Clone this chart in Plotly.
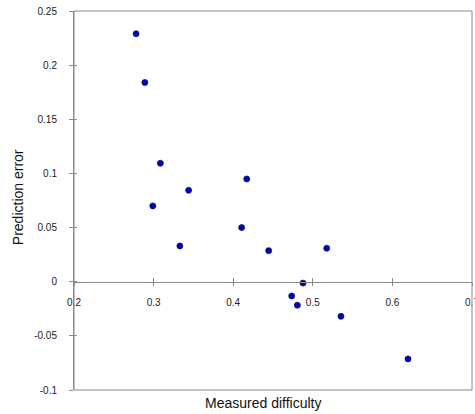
import plotly.graph_objects as go

measured_difficulty = [0.278, 0.289, 0.3085, 0.417, 0.344, 0.299, 0.4106, 0.333, 0.4446, 0.5175,
                       0.4877, 0.4735, 0.4806, 0.5354, 0.6196]
prediction_error = [0.229, 0.184, 0.1094, 0.0949, 0.0844, 0.070, 0.050, 0.033, 0.0287, 0.0309,
                    -0.0013, -0.0132, -0.0217, -0.032, -0.0713]

x_tick_vals = [0.2, 0.3, 0.4, 0.5, 0.6, 0.7]
x_tick_text = ["0.2", "0.3", "0.4", "0.5", "0.6", "0.7"]
y_tick_vals = [0.25, 0.2, 0.15, 0.1, 0.05, 0, -0.05, -0.1]
y_tick_text = ["0.25", "0.2", "0.15", "0.1", "0.05", "0", "-0.05", "-0.1"]

x_range = [0.2, 0.7]
y_range = [-0.1, 0.25]

axis_color = "#8a8a8a"
font_family = "Liberation Sans, Arial, sans-serif"

fig = go.Figure()
fig.add_trace(go.Scatter(
    x=measured_difficulty, y=prediction_error, mode="markers",
    marker=dict(size=6, color="#0000c8", line=dict(color="#1a1a40", width=0.8)),
    showlegend=False, hoverinfo="x+y",
))
# invisible trace for overlay axes
fig.add_trace(go.Scatter(x=[], y=[], xaxis="x2", yaxis="y2", showlegend=False))

zero_pos = (0 - y_range[0]) / (y_range[1] - y_range[0])

fig.update_layout(
    width=475, height=414,
    margin=dict(l=74, r=3, t=11, b=24, autoexpand=False),
    paper_bgcolor="white", plot_bgcolor="white",
    font=dict(family=font_family, size=10, color="#222222"),
    xaxis=dict(
        range=x_range, tickvals=x_tick_vals, ticktext=x_tick_text,
        showgrid=False, zeroline=False, showline=True, linecolor=axis_color, linewidth=1,
        ticks="outside", ticklen=3, tickcolor=axis_color,
        anchor="free", position=zero_pos, ticklabelstandoff=8,
        ticklabeloverflow="allow", automargin=False,
        tickfont=dict(size=10, color="#222222"),
    ),
    yaxis=dict(
        range=y_range, tickvals=y_tick_vals, ticktext=y_tick_text,
        showgrid=False, zeroline=False, showline=True, linecolor=axis_color, linewidth=1,
        ticks="outside", ticklen=4, tickcolor=axis_color, ticklabelstandoff=10,
        automargin=False,
        tickfont=dict(size=10, color="#222222"),
    ),
    xaxis2=dict(
        range=x_range, tickvals=x_tick_vals, showticklabels=False, overlaying="x",
        showgrid=False, zeroline=False, showline=False,
        ticks="inside", ticklen=4, tickcolor=axis_color,
        anchor="free", position=zero_pos,
    ),
    yaxis2=dict(
        range=y_range, tickvals=y_tick_vals, showticklabels=False, overlaying="y",
        showgrid=False, zeroline=False, showline=False,
        ticks="inside", ticklen=3, tickcolor=axis_color, anchor="x",
    ),
    shapes=[dict(type="rect", xref="paper", yref="paper", x0=0, y0=0, x1=1, y1=1,
                 line=dict(color=axis_color, width=1), layer="above")],
    annotations=[
        dict(text="Measured difficulty", xref="paper", yref="paper", x=0.475, y=0,
             yshift=-13, showarrow=False, xanchor="center", yanchor="middle",
             font=dict(size=14, color="#111111", family=font_family)),
        dict(text="Prediction error", xref="paper", x=-0.142, yref="paper", y=0.51,
             showarrow=False, textangle=-90, xanchor="center", yanchor="middle",
             font=dict(size=14, color="#111111", family=font_family)),
    ],
)

fig.write_html("out.html", config={"displayModeBar": False},
               post_script="document.body.style.margin='0';document.body.style.padding='0';")
